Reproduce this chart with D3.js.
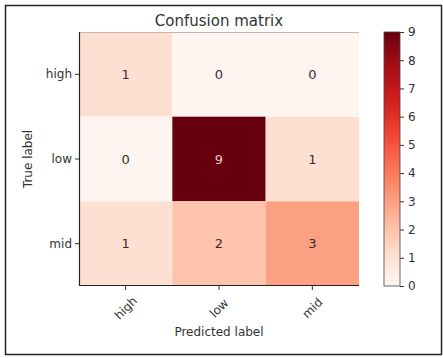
<!DOCTYPE html>
<html>
<head>
<meta charset="utf-8">
<script src="https://cdn.jsdelivr.net/npm/d3@7"></script>
<style>
  body { margin: 0; background: #fff; }
  text { font-family: "DejaVu Sans", sans-serif; }
</style>
</head>
<body>
<div id="vis"></div>
<script>
// confusion matrix data
var trueLabels = ['high', 'low', 'mid'];
var predLabels = ['high', 'low', 'mid'];
var counts = [
  [1, 0, 0],
  [0, 9, 1],
  [1, 2, 3]
];
var barTicks = [0, 1, 2, 3, 4, 5, 6, 7, 8, 9];

var width = 443, height = 358;
var plot = {left: 79, right: 359, top: 32, bottom: 286};
var bar = {left: 384, right: 400};

var svg = d3.select('#vis').append('svg')
  .attr('width', width)
  .attr('height', height);

// outer frame
svg.append('rect')
  .attr('x', 5.5).attr('y', 5.5)
  .attr('width', 436).attr('height', 349)
  .attr('fill', '#fff')
  .attr('stroke', '#222')
  .attr('stroke-width', 1.5);

var x = d3.scaleBand().domain(predLabels).range([plot.left, plot.right]);
var y = d3.scaleBand().domain(trueLabels).range([plot.top, plot.bottom]);
var maxVal = d3.max(counts, function(r) { return d3.max(r); });
var color = d3.scaleSequential(d3.interpolateReds).domain([0, maxVal]);

var cells = [];
counts.forEach(function(row, i) {
  row.forEach(function(v, j) {
    cells.push({t: trueLabels[i], p: predLabels[j], v: v});
  });
});

svg.selectAll('.cell')
  .data(cells)
  .enter().append('rect')
  .attr('class', 'cell')
  .attr('x', function(d) { return x(d.p); })
  .attr('y', function(d) { return y(d.t); })
  .attr('width', x.bandwidth())
  .attr('height', y.bandwidth())
  .attr('fill', function(d) { return color(d.v); });

svg.selectAll('.val')
  .data(cells)
  .enter().append('text')
  .attr('class', 'val')
  .attr('x', function(d) { return x(d.p) + x.bandwidth() / 2; })
  .attr('y', function(d) { return y(d.t) + y.bandwidth() / 2; })
  .attr('dy', '0.35em')
  .attr('text-anchor', 'middle')
  .attr('font-size', 13)
  .attr('fill', function(d) { return d.v > maxVal / 2 ? '#f0c4c4' : '#3a2c2c'; })
  .text(function(d) { return d.v; });

// spines
svg.append('line')
  .attr('x1', plot.left).attr('x2', plot.right)
  .attr('y1', plot.top + 0.5).attr('y2', plot.top + 0.5)
  .attr('stroke', '#c9b5b0').attr('stroke-width', 1);
svg.append('line')
  .attr('x1', plot.left + 0.5).attr('x2', plot.left + 0.5)
  .attr('y1', plot.top).attr('y2', plot.bottom)
  .attr('stroke', '#222').attr('stroke-width', 1.2);
svg.append('line')
  .attr('x1', plot.left).attr('x2', plot.right)
  .attr('y1', plot.bottom - 0.5).attr('y2', plot.bottom - 0.5)
  .attr('stroke', '#222').attr('stroke-width', 1.2);

// y axis
var yAxis = svg.append('g')
  .attr('transform', 'translate(' + plot.left + ',0)')
  .call(d3.axisLeft(y).tickSize(4).tickPadding(3));
yAxis.select('.domain').remove();
yAxis.selectAll('text').attr('font-size', 12).attr('fill', '#333')
  .style('font-family', '"DejaVu Sans", sans-serif');
yAxis.selectAll('line').attr('stroke', '#333');

// x axis, labels rotated 45 and centred under each tick
var xAxis = svg.append('g')
  .attr('transform', 'translate(0,' + plot.bottom + ')')
  .call(d3.axisBottom(x).tickSize(4).tickPadding(3));
xAxis.select('.domain').remove();
xAxis.selectAll('line').attr('stroke', '#333');
xAxis.selectAll('text')
  .attr('font-size', 12).attr('fill', '#333')
  .style('font-family', '"DejaVu Sans", sans-serif')
  .attr('text-anchor', 'middle')
  .attr('y', 0)
  .attr('dy', '0.35em')
  .attr('transform', 'translate(0,22) rotate(-45)');

// titles
svg.append('text')
  .attr('x', (plot.left + plot.right) / 2)
  .attr('y', 26)
  .attr('text-anchor', 'middle')
  .attr('font-size', 15)
  .attr('fill', '#333')
  .text('Confusion matrix');

svg.append('text')
  .attr('x', (plot.left + plot.right) / 2)
  .attr('y', 336)
  .attr('text-anchor', 'middle')
  .attr('font-size', 12)
  .attr('fill', '#333')
  .text('Predicted label');

svg.append('text')
  .attr('transform', 'translate(32,' + (plot.top + plot.bottom) / 2 + ') rotate(-90)')
  .attr('text-anchor', 'middle')
  .attr('font-size', 12)
  .attr('fill', '#333')
  .text('True label');

// colorbar
var cy = d3.scaleLinear().domain([0, maxVal]).range([plot.bottom, plot.top]);
var defs = svg.append('defs');
var grad = defs.append('linearGradient')
  .attr('id', 'cbar')
  .attr('x1', 0).attr('y1', 1).attr('x2', 0).attr('y2', 0);
d3.range(0, 1.0001, 0.05).forEach(function(t) {
  grad.append('stop')
    .attr('offset', t)
    .attr('stop-color', color(t * maxVal));
});
svg.append('rect')
  .attr('x', bar.left).attr('y', plot.top)
  .attr('width', bar.right - bar.left)
  .attr('height', plot.bottom - plot.top)
  .attr('fill', 'url(#cbar)')
  .attr('stroke', '#444')
  .attr('stroke-width', 0.8);

var cAxis = svg.append('g')
  .attr('transform', 'translate(' + bar.right + ',0)')
  .call(d3.axisRight(cy).tickValues(barTicks).tickSize(4).tickPadding(4));
cAxis.select('.domain').remove();
cAxis.selectAll('line').attr('stroke', '#333');
cAxis.selectAll('text').attr('font-size', 12).attr('fill', '#333')
  .style('font-family', '"DejaVu Sans", sans-serif');
</script>
</body>
</html>
